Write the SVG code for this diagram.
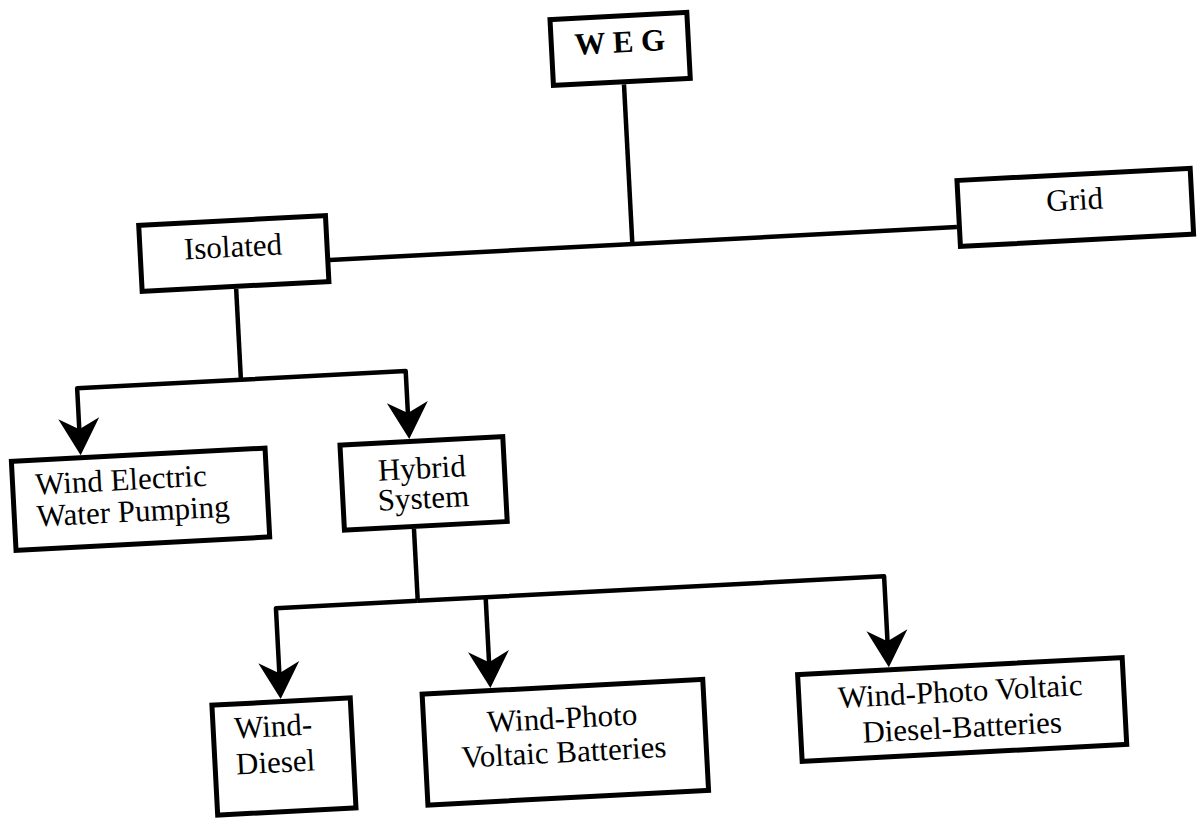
<svg xmlns="http://www.w3.org/2000/svg" width="1200" height="821" viewBox="0 0 1200 821">
<style>
.box{fill:#fff;stroke:#000;stroke-width:5}
.lbl{font-family:"Liberation Serif","Times New Roman",serif;font-size:31px;fill:#000}
.c{text-anchor:middle}
.conn{fill:none;stroke:#000;stroke-width:4.5;stroke-linejoin:round}
</style>
<defs>
<marker id="ah" markerUnits="userSpaceOnUse" viewBox="-20 -25 45 50" markerWidth="45" markerHeight="50" refX="0" refY="0" orient="auto" overflow="visible">
<path d="M20,0 L-17,-20.5 L-6,0 L-17,20.5 Z" fill="#000"/>
</marker>
</defs>
<rect width="1200" height="821" fill="#fff"/>
<g transform="rotate(-3 600 410)">
<g id="connectors" class="conn">
<path d="M641,86 V246"/>
<path d="M338,246 H966"/>
<path d="M243,270 V361"/>
<path d="M243,361 H79 V408" marker-end="url(#ah)"/>
<path d="M243,361 H408 V409" marker-end="url(#ah)"/>
<path d="M408,519 V591"/>
<path d="M408,591 H266 V662" marker-end="url(#ah)"/>
<path d="M476,591 V662" marker-end="url(#ah)"/>
<path d="M408,591 H875 V662" marker-end="url(#ah)"/>
</g>
<g id="weg">
<rect class="box" x="570.5" y="17.5" width="137" height="66"/>
<text class="lbl c" x="639" y="54" font-weight="bold">W E G</text>
</g>
<g id="isolated">
<rect class="box" x="149" y="201.5" width="187" height="66"/>
<text class="lbl c" x="242" y="238">Isolated</text>
</g>
<g id="grid">
<rect class="box" x="968.5" y="199.5" width="233.5" height="66"/>
<text class="lbl c" x="1085" y="235">Grid</text>
</g>
<g id="water-pumping">
<rect class="box" x="9.5" y="430.5" width="254" height="89"/>
<text class="lbl" x="32" y="465">Wind Electric</text>
<text class="lbl" x="32" y="497">Water Pumping</text>
</g>
<g id="hybrid">
<rect class="box" x="338.5" y="431.5" width="163" height="85"/>
<text class="lbl c" x="419" y="469">Hybrid</text>
<text class="lbl c" x="419" y="499">System</text>
</g>
<g id="wind-diesel">
<rect class="box" x="197" y="684.5" width="138.5" height="110"/>
<text class="lbl" x="218" y="719">Wind-</text>
<text class="lbl" x="218" y="755">Diesel</text>
</g>
<g id="wind-pv-batteries">
<rect class="box" x="407.5" y="684.5" width="281" height="111"/>
<text class="lbl c" x="546" y="726">Wind-Photo</text>
<text class="lbl c" x="546" y="760">Voltaic Batteries</text>
</g>
<g id="wind-pv-diesel-batteries">
<rect class="box" x="783.5" y="684.5" width="325" height="87"/>
<text class="lbl c" x="945" y="720">Wind-Photo Voltaic</text>
<text class="lbl c" x="945" y="756">Diesel-Batteries</text>
</g>
</g>
</svg>
